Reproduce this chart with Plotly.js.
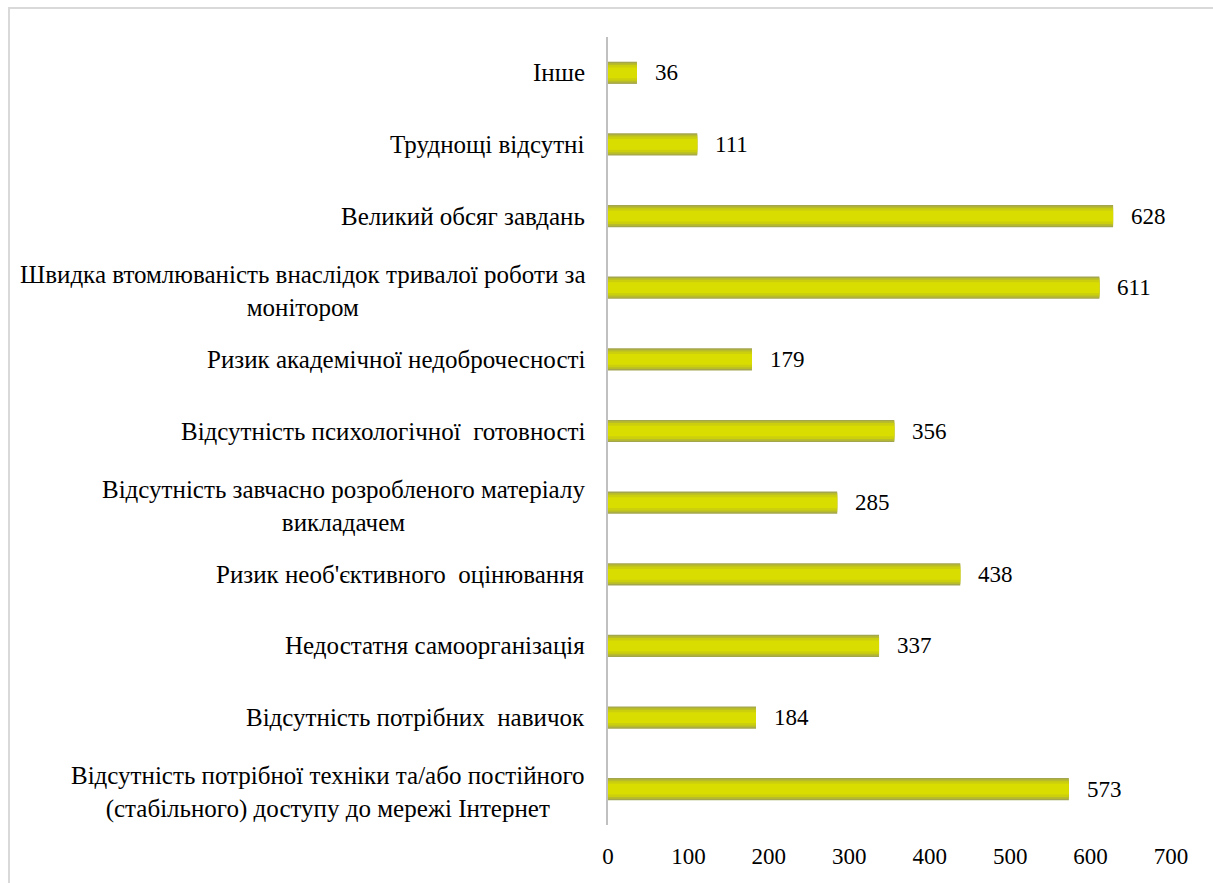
<!DOCTYPE html>
<html>
<head>
<meta charset="utf-8">
<script src="https://cdn.plot.ly/plotly-3.0.1.min.js"></script>
<style>
  html, body { margin: 0; padding: 0; background: #fff; }
  #chart { position: absolute; left: 0; top: 0; width: 1213px; height: 883px; }
  #frame { position: absolute; left: 8px; top: 7px; width: 1220px; height: 900px;
           border-left: 2px solid #d9d9d9; border-top: 2px solid #d9d9d9; pointer-events: none; }
</style>
</head>
<body>
<div id="chart"></div>
<div id="frame"></div>
<script>
// Categories listed bottom to top
const categories = [
  "Відсутність потрібної техніки та/або постійного<br>(стабільного) доступу до мережі Інтернет",
  "Відсутність потрібних  навичок",
  "Недостатня самоорганізація",
  "Ризик необ'єктивного  оцінювання",
  "Відсутність завчасно розробленого матеріалу<br>викладачем",
  "Відсутність психологічної  готовності",
  "Ризик академічної недоброчесності",
  "Швидка втомлюваність внаслідок тривалої роботи за<br>монітором",
  "Великий обсяг завдань",
  "Труднощі відсутні",
  "Інше"
];
const values = [573, 184, 337, 438, 285, 356, 179, 611, 628, 111, 36];
const xTicks = [0, 100, 200, 300, 400, 500, 600, 700];

const serif = "Liberation Serif";

// layered bars to imitate the shaded (gradient) fill
const layers = [
  {w: 0.31, c: "#a4a64c"},
  {w: 0.27, c: "#b9bc2a"},
  {w: 0.22, c: "#cccf0c"},
  {w: 0.15, c: "#dadd00"}
];
const traces = layers.map(l => ({
  type: "bar", orientation: "h",
  x: values, y: categories,
  width: l.w,
  marker: {color: l.c, line: {width: 0}},
  hoverinfo: "skip", showlegend: false
}));

const annotations = [];
categories.forEach((c, i) => {
  annotations.push({
    xref: "paper", yref: "y", x: 0, y: c, xanchor: "right", yanchor: "middle",
    xshift: -21, yshift: c.includes("<br>") ? -3 : 0,
    text: c, showarrow: false, align: "center",
    font: {family: serif, size: 25, color: "black"}
  });
  annotations.push({
    xref: "x", yref: "y", x: values[i], y: c, xanchor: "left", yanchor: "middle",
    xshift: 16, text: String(values[i]), showarrow: false,
    font: {family: serif, size: 23, color: "black"}
  });
});

const layout = {
  width: 1213, height: 883,
  margin: {l: 608, r: 42, t: 37, b: 58},
  paper_bgcolor: "#fff", plot_bgcolor: "#fff",
  font: {family: serif, color: "black"},
  barmode: "overlay",
  xaxis: {
    range: [0, 700], tickvals: xTicks, ticktext: xTicks.map(String),
    showgrid: false, zeroline: false, showline: false, ticks: "",
    ticklabelstandoff: 15,
    tickfont: {family: serif, size: 23, color: "black"}
  },
  yaxis: {
    type: "category", categoryorder: "array", categoryarray: categories,
    showticklabels: false, showgrid: false, zeroline: false,
    showline: true, linecolor: "#c0c0c0", linewidth: 2, ticks: ""
  },
  annotations: annotations
};

Plotly.newPlot("chart", traces, layout, {displayModeBar: false});
</script>
</body>
</html>
